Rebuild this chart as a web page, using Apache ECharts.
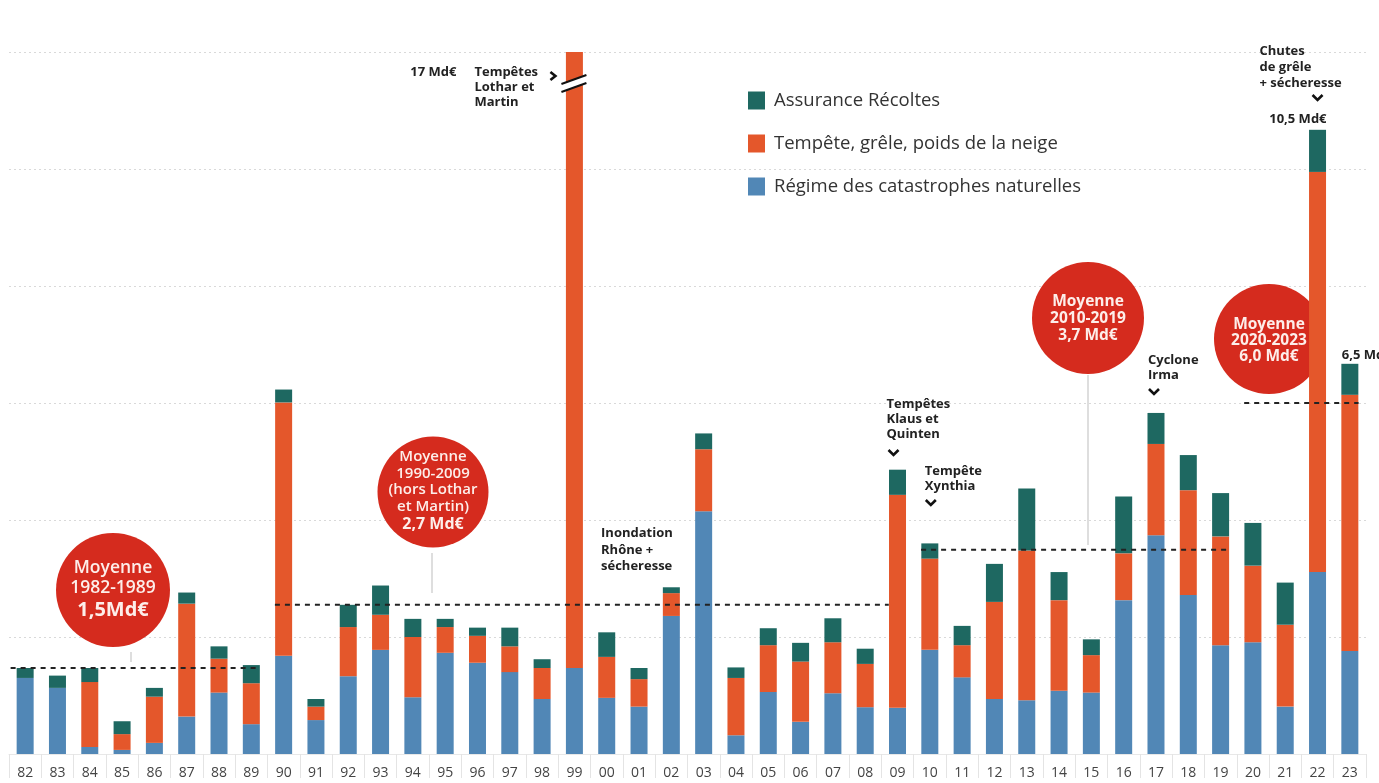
<!DOCTYPE html>
<html>
<head>
<meta charset="utf-8">
<title>Sinistres climatiques 1982-2023</title>
<script src="https://cdn.jsdelivr.net/npm/echarts@6/dist/echarts.min.js"></script>
<style>
	html, body { margin: 0; padding: 0; background: #fff; }
	#main { width: 1379px; height: 783px; }
</style>
</head>
<body>
<div id="main"></div>
<script>
// années 1982 -> 2023
var years = ['82','83','84','85','86','87','88','89','90','91','92','93','94','95','96','97','98','99','00','01',
	'02','03','04','05','06','07','08','09','10','11','12','13','14','15','16','17','18','19','20','21','22','23'];

// Md€ par an
var catnat = [1.30,1.13,0.12,0.07,0.19,0.64,1.05,0.51,1.68,0.58,1.33,1.78,0.97,1.73,1.56,1.40,0.94,1.47,0.96,0.81,
	2.36,4.15,0.32,1.06,0.55,1.04,0.80,0.79,1.78,1.31,0.94,0.92,1.08,1.05,2.63,3.74,2.72,1.86,1.91,0.81,3.11,1.76];
var tempete = [0,0,1.11,0.27,0.79,1.93,0.58,0.70,4.33,0.23,0.84,0.60,1.03,0.44,0.46,0.44,0.53,15.53,0.70,0.47,
	0.39,1.06,0.98,0.80,1.03,0.87,0.74,3.64,1.56,0.55,1.66,2.56,1.55,0.64,0.80,1.56,1.79,1.86,1.31,1.40,6.84,4.38];
var recoltes = [0.17,0.21,0.24,0.22,0.15,0.19,0.21,0.31,0.22,0.13,0.38,0.50,0.31,0.14,0.14,0.32,0.15,0,0.42,0.19,
	0.10,0.27,0.18,0.29,0.32,0.41,0.26,0.43,0.26,0.33,0.65,1.06,0.48,0.27,0.97,0.53,0.60,0.74,0.73,0.72,0.72,0.53];

// moyennes par période (niveau du trait pointillé)
var avgFrom = ['82','90','10','20'];
var avgTo = ['89','09','19','23'];
var avgLevel = [1.47, 2.55, 3.49, 6.0];
var avgText = [
	['Moyenne', '1982-1989', '1,5Md€'],
	['Moyenne', '1990-2009', '(hors Lothar', 'et Martin)', '2,7 Md€'],
	['Moyenne', '2010-2019', '3,7 Md€'],
	['Moyenne', '2020-2023', '6,0 Md€']
];

var names = ['Régime des catastrophes naturelles', 'Tempête, grêle, poids de la neige', 'Assurance Récoltes'];
var colors = ['#5187b6', '#e4572b', '#1e6861'];
var FONT = '"Open Sans", "Noto Sans", sans-serif';

var chart = echarts.init(document.getElementById('main'));

function barSeries(name, data, color) {
	return {
		name: name,
		type: 'bar',
		stack: 'total',
		data: data,
		barWidth: 17,
		clip: true,
		itemStyle: { color: color },
		emphasis: { disabled: true },
		z: 2
	};
}

// traits pointillés des moyennes, sur un axe x numérique caché aligné sur les catégories
var half = 0.27;
var avgSeries = avgLevel.map(function(lvl, i) {
	var s = years.indexOf(avgFrom[i]) - half;
	var e = years.indexOf(avgTo[i]) + half;
	if (i === 0) { s = -0.45; }
	if (i === 1) { e = years.indexOf(avgTo[i]) - half; }
	return {
		type: 'line',
		xAxisIndex: 1,
		data: [[s, lvl], [e, lvl]],
		symbol: 'none',
		silent: true,
		lineStyle: { color: '#222', width: 2, type: [5, 5] },
		z: 5
	};
});

var option = {
	backgroundColor: '#fff',
	animation: false,
	textStyle: { fontFamily: FONT },
	grid: { left: 9, right: 13, top: 52, bottom: 29, containLabel: false },
	legend: {
		data: [names[2], names[1], names[0]],
		orient: 'vertical',
		left: 748,
		top: 91,
		padding: 0,
		icon: 'rect',
		itemWidth: 17,
		itemHeight: 18,
		itemGap: 24,
		selectedMode: false,
		textStyle: { fontSize: 18.5, color: '#333', fontFamily: FONT, padding: [0, 0, 0, 4] }
	},
	xAxis: [{
		type: 'category',
		data: years,
		offset: 7,
		axisLine: { show: true, lineStyle: { color: '#e8e8e8', width: 1 } },
		axisTick: { show: true, interval: 0, length: 24, lineStyle: { color: '#e4e4e4' } },
		axisLabel: { interval: 0, margin: 5, fontSize: 14, color: '#444', fontFamily: FONT }
	}, {
		type: 'value',
		min: -0.5,
		max: years.length - 0.5,
		show: false
	}],
	yAxis: {
		type: 'value',
		min: 0,
		max: 12,
		interval: 2,
		axisLabel: { show: false },
		axisLine: { show: false },
		axisTick: { show: false },
		splitLine: { show: true, lineStyle: { color: '#d9d9d9', type: [2, 3], width: 1 } }
	},
	series: [
		barSeries(names[0], catnat, colors[0]),
		barSeries(names[1], tempete, colors[1]),
		barSeries(names[2], recoltes, colors[2])
	].concat(avgSeries)
};

chart.setOption(option);

// annotations
function px(year, v) {
	return chart.convertToPixel({ seriesIndex: 0 }, [years.indexOf(year), v]);
}

function label(x, y, lines, opt) {
	opt = opt || {};
	return {
		type: 'text',
		x: x,
		y: y,
		z: opt.z || 10,
		silent: true,
		style: {
			text: lines.join('\n'),
			font: (opt.weight || 'bold') + ' ' + (opt.size || 13) + 'px ' + FONT,
			fill: opt.color || '#222',
			align: opt.align || 'left',
			verticalAlign: 'middle',
			lineHeight: opt.lh || 15
		}
	};
}

function chevron(x, y) {
	return {
		type: 'polyline', z: 10, silent: true,
		shape: { points: [[x - 5, y - 3], [x, y + 2], [x + 5, y - 3]] },
		style: { stroke: '#111', lineWidth: 2.6, fill: null }
	};
}

function vline(x, y1, y2) {
	return {
		type: 'line', z: 1, silent: true,
		shape: { x1: x, y1: y1, x2: x, y2: y2 },
		style: { stroke: '#c8c8c8', lineWidth: 1.2 }
	};
}

function bubble(cx, cy, r, lines, ys, sizes, weights) {
	var els = [{
		type: 'circle', z: 0, silent: true,
		shape: { cx: cx, cy: cy, r: r },
		style: { fill: '#d52b1e' }
	}];
	lines.forEach(function(t, i) {
		els.push(label(cx, ys[i], [t], { size: sizes[i], weight: weights[i], color: '#fdeeea', align: 'center', z: 1 }));
	});
	return els;
}

function drawAnnotations() {
	var g = [];
	var b99 = px('99', 0)[0];
	var b01 = px('01', 0)[0];
	var b09 = px('09', 0)[0];
	var b10 = px('10', 0)[0];
	var b17 = px('17', 0)[0];
	var b22 = px('22', 0)[0];
	var b23 = px('23', 0)[0];

	// 1999 : barre coupée
	g.push(label(b99 - 118, 72, ['17 Md€'], { align: 'right' }));
	g.push(label(b99 - 100, 87, ['Tempêtes', 'Lothar et', 'Martin']));
	g.push({
		type: 'polyline', z: 10, silent: true,
		shape: { points: [[b99 - 24, 72], [b99 - 19, 76], [b99 - 24, 80]] },
		style: { stroke: '#111', lineWidth: 2.6, fill: null }
	});
	g.push({
		type: 'line', z: 10, silent: true,
		shape: { x1: b99 - 13, y1: 88, x2: b99 + 12, y2: 79 },
		style: { stroke: '#fff', lineWidth: 7 }
	});
	g.push({
		type: 'line', z: 11, silent: true,
		shape: { x1: b99 - 13, y1: 84, x2: b99 + 12, y2: 75 },
		style: { stroke: '#111', lineWidth: 2 }
	});
	g.push({
		type: 'line', z: 11, silent: true,
		shape: { x1: b99 - 13, y1: 92, x2: b99 + 12, y2: 83 },
		style: { stroke: '#111', lineWidth: 2 }
	});

	g.push(label(b01 - 38, 550, ['Inondation', 'Rhône +', 'sécheresse'], { lh: 16.5 }));

	g.push(label(b09 - 11, 419, ['Tempêtes', 'Klaus et', 'Quinten']));
	g.push(chevron(b09 - 4, 453));
	g.push(label(b10 - 5, 478.5, ['Tempête', 'Xynthia']));
	g.push(chevron(b10 + 1, 503));
	g.push(label(b17 - 8, 367.5, ['Cyclone', 'Irma']));
	g.push(chevron(b17 - 2, 392));
	g.push(label(b22 - 58, 67, ['Chutes', 'de grêle', '+ sécheresse'], { lh: 16 }));
	g.push(chevron(b22, 98));
	g.push(label(b22 + 9, 119, ['10,5 Md€'], { align: 'right' }));
	g.push(label(b23 - 8, 355, ['6,5 Md€']));

	// bulles des moyennes et leurs traits de rappel
	g = g.concat(bubble(113, 590, 57, avgText[0], [568, 588, 610], [17.5, 17.5, 20], ['600', '600', 'bold']));
	g.push(vline(131, 652, 662));
	g = g.concat(bubble(433, 492, 55.5, avgText[1], [457, 474, 490, 507, 524], [15, 15, 15, 15, 16], ['600', '600', '600', '600', 'bold']));
	g.push(vline(432, 553, 593));
	g = g.concat(bubble(1088, 318, 56, avgText[2], [302, 319, 336], [15.5, 15.5, 15.5], ['bold', 'bold', 'bold']));
	g.push(vline(1088, 375, 545));
	g = g.concat(bubble(1269, 339, 55, avgText[3], [325, 341, 357], [15.5, 15.5, 15.5], ['bold', 'bold', 'bold']));

	chart.setOption({ graphic: { elements: g } });
}

drawAnnotations();
</script>
</body>
</html>
